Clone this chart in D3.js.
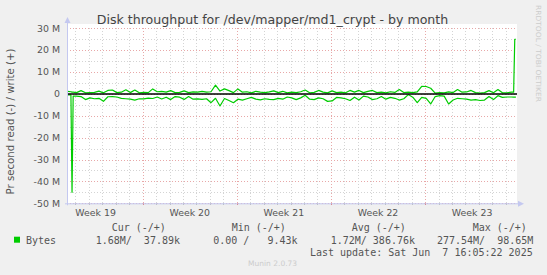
<!DOCTYPE html>
<html><head><meta charset="utf-8">
<script src="https://cdn.jsdelivr.net/npm/d3@7"></script>
<style>
html,body{margin:0;padding:0;background:#f0f0f0;}
svg{display:block;}
</style></head>
<body>
<script>
// ---- data (values in M bytes/s); sample times in hours after startTime ----
const startTime = Date.UTC(2025, 4, 5, 10);
const sampleHours = [0, 6, 8, 10].concat(d3.range(16, 793, 8), [796, 798, 800]);
const readValues = [0.4,0.5,45,1.0,
 1.0,1.2,2.6,1.8,2.2,2.0,3.4,1.3,1.2,1.4,2.0,2.2,2.4,2.8,2.2,2.3,1.9,2.1,1.4,2.3,1.5,2.6,1.2,
 1.5,2.5,1.2,2.4,2.3,2.5,2.2,4.0,2.0,5.5,2.1,3.0,4.0,2.4,2.8,2.2,1.6,2.4,2.7,2.2,2.5,2.6,2.0,2.4,1.4,1.8,
 2.6,1.8,0.6,2.4,2.6,1.8,2.2,3.4,3.2,1.6,1.8,2.2,3.0,1.5,2.8,1.0,1.4,2.6,2.2,1.2,2.4,1.6,2.0,2.8,2.2,
 0.3,1.5,4.0,1.6,2.0,4.6,1.2,0.8,1.0,4.6,2.8,2.0,2.2,2.4,2.8,2.6,3.0,2.8,1.2,2.6,0.8,1.6,1.4,1.4,
 1.5,1.5,1.5];
const writeValues = [1.2,1.0,0.8,0.8,
 0.6,1.5,0.5,0.6,0.7,1.3,0.5,1.6,1.8,0.6,0.8,1.9,0.6,1.8,0.5,0.7,0.6,2.3,1.0,1.2,0.8,1.5,0.6,
 0.7,1.4,0.6,0.9,0.8,1.2,0.8,1.0,4.0,1.3,2.3,1.5,0.6,2.3,0.8,1.0,0.5,1.2,0.8,0.6,0.9,1.4,0.6,1.2,0.5,0.8,
 0.6,1.0,1.8,0.5,0.7,1.6,0.8,0.5,1.4,0.6,0.8,0.5,1.6,0.8,1.6,0.6,1.2,1.6,0.6,0.8,0.5,1.0,0.7,2.0,0.6,
 0.8,0.6,0.9,3.5,3.4,2.6,0.4,0.6,0.5,0.9,0.6,2.0,0.8,0.9,1.6,0.6,0.4,0.6,1.5,0.5,2.0,0.5,0.5,0.8,
 0.8,25,25];
const yTicks = [30,20,10,0,-10,-20,-30,-40,-50];
const yTickLabels = ["30 M","20 M","10 M","0","-10 M","-20 M","-30 M","-40 M","-50 M"];
const weekLabels = ["Week 19","Week 20","Week 21","Week 22","Week 23"];
const legendHeaders = ["Cur (-/+)","Min (-/+)","Avg (-/+)","Max (-/+)"];
const legendValues = ["1.68M/  37.89k","0.00 /   9.43k","1.72M/ 386.76k","277.54M/  98.65M"];
const seriesName = "Bytes";
const title = "Disk throughput for /dev/mapper/md1_crypt - by month";
const yLabel = "Pr second read (-) / write (+)";
const lastUpdate = "Last update: Sat Jun  7 16:05:22 2025";

// ---- layout ----
const W = 547, H = 275;
const L = 67, R = 517, T = 28.3, B = 203.3;
const svg = d3.select("body").append("svg").attr("width", W).attr("height", H);
svg.append("rect").attr("width", W).attr("height", H).attr("fill", "#f0f0f0");

const t0 = Date.UTC(2025, 4, 5, 9), t1 = Date.UTC(2025, 5, 7, 20);
const x = d3.scaleUtc().domain([t0, t1]).range([L, R]);
const y = d3.scaleLinear().domain([-50, 30]).range([B, T]);

svg.append("rect").attr("x", L).attr("y", 24).attr("width", R - L).attr("height", B - 24).attr("fill", "#ffffff");

const grid = svg.append("g").attr("shape-rendering", "crispEdges");
d3.range(-50, 31, 5).forEach(v => {
  const major = v % 10 === 0;
  grid.append("line").attr("x1", L).attr("x2", R).attr("y1", Math.round(y(v)) + 0.5).attr("y2", Math.round(y(v)) + 0.5)
    .attr("stroke", major ? "#e8a8a8" : "#d4d4d4").attr("stroke-dasharray", "1,2");
});
d3.utcDay.range(new Date(t0), new Date(t1)).forEach(d => {
  const major = d.getUTCDay() === 0;
  const xx = Math.round(x(d)) + 0.5;
  grid.append("line").attr("x1", xx).attr("x2", xx).attr("y1", T).attr("y2", B)
    .attr("stroke", major ? "#e8a8a8" : "#d4d4d4").attr("stroke-dasharray", "1,2");
  grid.append("line").attr("x1", xx).attr("x2", xx).attr("y1", B).attr("y2", B + 2)
    .attr("stroke", major ? "#e07070" : "#bbbbbb");
});

// data
const times = sampleHours.map(h => startTime + h * 3600000);
const lineGen = d3.line().x(d => x(d[0])).y(d => y(d[1]));
svg.append("path").datum(times.map((t, i) => [t, -readValues[i]]))
  .attr("d", lineGen).attr("fill", "none").attr("stroke", "#00cc00").attr("stroke-width", 1.2).attr("stroke-linejoin", "round");
svg.append("path").datum(times.map((t, i) => [t, writeValues[i]]))
  .attr("d", lineGen).attr("fill", "none").attr("stroke", "#00cc00").attr("stroke-width", 1.2).attr("stroke-linejoin", "round");

// zero line
svg.append("line").attr("x1", L).attr("x2", R).attr("y1", y(0)).attr("y2", y(0)).attr("stroke", "#000").attr("stroke-width", 1.6);

// axes
const axisColor = "#c4c8f0";
svg.append("line").attr("x1", L + 0.5).attr("x2", L + 0.5).attr("y1", B + 2).attr("y2", 20).attr("stroke", axisColor);
svg.append("path").attr("d", `M${L - 2.5},23 L${L + 3.5},23 L${L + 0.5},17 Z`).attr("fill", axisColor);
svg.append("line").attr("x1", L - 2).attr("x2", R + 3).attr("y1", B + 0.5).attr("y2", B + 0.5).attr("stroke", axisColor);
svg.append("path").attr("d", `M${R + 1},${B - 2.5} L${R + 1},${B + 3.5} L${R + 7},${B + 0.5} Z`).attr("fill", axisColor);

const txt = "#555555";
yTicks.forEach((v, i) => {
  svg.append("text").attr("x", 60).attr("y", y(v) + 3.3).attr("text-anchor", "end")
    .attr("font-family", "DejaVu Sans").attr("font-size", 9.4).attr("fill", txt).text(yTickLabels[i]);
});
d3.utcSunday.range(new Date(t0 - 7 * 864e5), new Date(t1)).forEach((s, i) => {
  const c = x(new Date(+s + 3.5 * 864e5));
  svg.append("text").attr("x", c).attr("y", 216).attr("text-anchor", "middle")
    .attr("font-family", "DejaVu Sans").attr("font-size", 9.4).attr("fill", txt).text(weekLabels[i]);
});

svg.append("text").attr("x", 272.5).attr("y", 24).attr("text-anchor", "middle")
  .attr("font-family", "DejaVu Sans").attr("font-size", 12.6).attr("fill", "#444").text(title);
svg.append("text").attr("transform", "translate(14,121.5) rotate(-90)").attr("text-anchor", "middle")
  .attr("font-family", "DejaVu Sans").attr("font-size", 10.2).attr("fill", txt).text(yLabel);
svg.append("text").attr("transform", "translate(536,5) rotate(90)").attr("text-anchor", "start")
  .attr("font-family", "DejaVu Sans").attr("font-size", 7).attr("fill", "#cccccc")
  .attr("textLength", 97).attr("lengthAdjust", "spacingAndGlyphs").text("RRDTOOL / TOBI OETIKER");

const mono = "DejaVu Sans Mono";
const headerX = [111.7, 231.7, 351.7, 472.7];
const valueEnd = [180, 297.5, 415, 533.3];
legendHeaders.forEach((h, i) => {
  svg.append("text").attr("x", headerX[i]).attr("y", 230.5).attr("font-family", mono).attr("font-size", 10)
    .attr("fill", txt).style("white-space", "pre").text(h);
});
legendValues.forEach((v, i) => {
  svg.append("text").attr("x", valueEnd[i]).attr("y", 243.5).attr("text-anchor", "end").attr("font-family", mono).attr("font-size", 10)
    .attr("fill", txt).style("white-space", "pre").text(v);
});
svg.append("rect").attr("x", 14).attr("y", 236.7).attr("width", 6).attr("height", 6).attr("fill", "#00cc00");
svg.append("text").attr("x", 26).attr("y", 243.5).attr("font-family", mono).attr("font-size", 10).attr("fill", txt).text(seriesName);
svg.append("text").attr("x", 532.7).attr("y", 255.5).attr("text-anchor", "end").attr("font-family", mono).attr("font-size", 10)
  .attr("fill", txt).style("white-space", "pre").text(lastUpdate);
svg.append("text").attr("x", 272.6).attr("y", 266).attr("text-anchor", "middle").attr("font-family", "DejaVu Sans").attr("font-size", 7.5)
  .attr("fill", "#cccccc").text("Munin 2.0.73");
</script>
</body></html>
